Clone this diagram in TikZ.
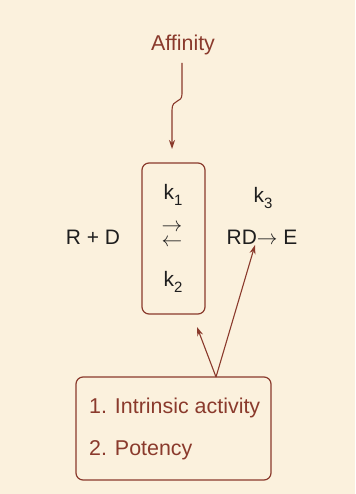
\documentclass[tikz,border=0pt]{standalone}
\usepackage{fontspec}
\setmainfont{Liberation Sans}
\usetikzlibrary{arrows.meta}
\definecolor{bg}{HTML}{FBF1DD}
\definecolor{brn}{HTML}{8A3A2C}
\definecolor{ink}{HTML}{1E1E1E}
\newcommand{\sbs}[1]{\raisebox{-0.3em}{\fontsize{15}{15}\selectfont #1}}
\tikzset{
  box/.style={draw=brn, line width=1.2bp, rounded corners=7bp, inner sep=0pt},
  lbl/.style={font=\fontsize{21}{25}\selectfont, text=ink, inner sep=0pt},
  blbl/.style={font=\fontsize{21.5}{25}\selectfont, text=brn, inner sep=0pt},
  arr/.style={font=\fontsize{21}{25}\selectfont, text=ink, inner sep=0pt, anchor=base},
  conn/.style={draw=brn, line width=1.1bp, -{Stealth[length=9bp,width=6bp]}},
}
\begin{document}
\begin{tikzpicture}[x=1bp,y=-1bp]
\fill[bg] (0,0) rectangle (355,494);
\useasboundingbox (0,0) rectangle (355,494);
% boxes
\node[box, minimum width=63bp, minimum height=151bp] (mid) at (173.5,238.5) {};
\node[box, minimum width=195bp, minimum height=103bp] (bot) at (173.5,428.5) {};
% texts
\node[blbl] (aff) at (183,45) {Affinity};
\node[lbl] (k1) at (173,195) {k\sbs{1}};
\node[arr] (fw) at (172,231) {$\rightarrow$};
\node[arr] (bw) at (172,246) {$\leftarrow$};
\node[lbl] (k2) at (173,282) {k\sbs{2}};
\node[lbl] (k3) at (263,198) {k\sbs{3}};
\node[lbl] (rd) at (93,237) {R + D};
\node[lbl] (rde) at (262,237) {RD$\rightarrow$ E};
\node[blbl, anchor=west] (t1) at (89,408) {1. Intrinsic activity};
\node[blbl, anchor=west] (t2) at (89,450) {2. Potency};
% connectors
\coordinate (a0) at (182,63);
\coordinate (a1) at (172,149);
\draw[conn] (a0) -- (182,94) .. controls (182,104) and (172,98) .. (172,110) -- (a1);
\coordinate (b0) at (216,377);
\coordinate (b1) at (197,327);
\coordinate (b2) at (255,245);
\draw[conn] (b0) -- (b1);
\draw[conn] (b0) -- (b2);
\end{tikzpicture}
\end{document}
